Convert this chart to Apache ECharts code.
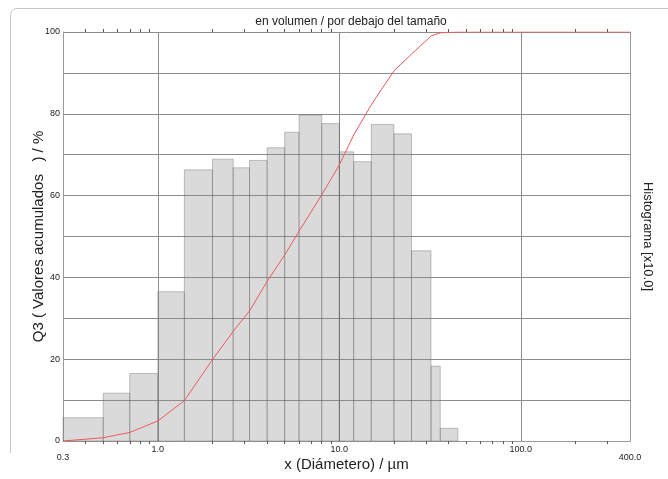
<!DOCTYPE html>
<html>
<head>
<meta charset="utf-8">
<script src="https://cdn.jsdelivr.net/npm/echarts@6/dist/echarts.min.js"></script>
<style>
  html, body { margin: 0; padding: 0; background: #ffffff; }
  #chart { width: 668px; height: 479px; }
</style>
</head>
<body>
<div id="chart"></div>
<script>
// Size class edges in µm (one more edge than there are classes)
const classEdges = [0.3, 0.5, 0.7, 1.0, 1.4, 2.0, 2.6, 3.2, 4.0, 5.0, 6.0, 8.0, 10, 12, 15, 20, 25, 32, 36, 45];
// Density distribution per class (histogram, scaled x10)
const histValues = [5.7, 11.7, 16.5, 36.5, 66.3, 68.9, 66.8, 68.6, 71.7, 75.5, 79.7, 77.6, 70.7, 68.3, 77.4, 75.1, 46.5, 18.3, 3.1];
// Cumulative undersize Q3 (%) at each size
const cumSizes = [0.3, 0.5, 0.7, 1.0, 1.4, 2.0, 2.6, 3.2, 4.0, 5.0, 6.0, 8.0, 10, 12, 15, 20, 25, 32, 36, 45, 400];
const cumValues = [0, 0.8, 2.1, 4.9, 9.9, 19.9, 26.8, 31.8, 39.0, 45.5, 51.3, 60.2, 67.5, 74.8, 82.2, 90.5, 94.6, 99.0, 99.8, 100, 100];
// Axis labels
const xLabelValues = [0.3, 1, 10, 100, 400];
const yLabelValues = [0, 20, 40, 60, 80, 100];
// Minor log ticks (2..9 of each decade) inside the axis range
const minorTickValues = [];
[0.1, 1, 10, 100].forEach(function (d) {
  for (let k = 2; k <= 9; k++) {
    const v = +(k * d).toFixed(3);
    if (v > 0.3 && v < 400) minorTickValues.push(v);
  }
});

const FONT = '"Liberation Sans", Arial, sans-serif';
const GRID_COLOR = '#8c8c8c';
const FRAME_COLOR = '#9a9a9a';

const chart = echarts.init(document.getElementById('chart'), null, { renderer: 'canvas' });

const minorAxis = function (pos) {
  return {
    type: 'log', logBase: 10, min: 0.3, max: 400, position: pos, gridIndex: 0,
    axisLine: { show: false },
    axisTick: { show: true, inside: false, length: 3, customValues: minorTickValues,
      lineStyle: { color: '#555', width: 1 } },
    axisLabel: { show: false },
    splitLine: { show: false }
  };
};

chart.setOption({
  animation: false,
  textStyle: { fontFamily: FONT },
  title: {
    text: 'en volumen / por debajo del tamaño',
    left: 346, top: 11, textAlign: 'center',
    textStyle: { fontSize: 12, fontWeight: 'normal', color: '#222', fontFamily: FONT }
  },
  graphic: [{
    type: 'polyline',
    shape: { points: [[10.5, 453], [10.5, 14.5], [11.5, 11.5], [13.5, 9.5], [16.5, 8.5], [668, 8.5]] },
    style: { fill: null, stroke: '#c4c4c4', lineWidth: 1 },
    silent: true
  }],
  grid: { left: 63, top: 32, width: 567, height: 409, containLabel: false, outerBoundsMode: 'none' },
  xAxis: [
    {
      type: 'log', logBase: 10, min: 0.3, max: 400, position: 'bottom', gridIndex: 0,
      axisLine: { show: true, lineStyle: { color: FRAME_COLOR } },
      axisTick: { show: false },
      axisLabel: {
        customValues: xLabelValues,
        fontSize: 9, color: '#222', margin: 5, lineHeight: 8,
        formatter: function (v) {
          const s = Number(v).toFixed(1);
          return (v < 0.5 || v > 300) ? '\n' + s : s;
        }
      },
      splitLine: { show: true, lineStyle: { color: GRID_COLOR, width: 1 } },
      name: 'x (Diámetero) / µm', nameLocation: 'middle', nameGap: 16, nameMoveOverlap: false,
      nameTextStyle: { fontSize: 15, color: '#222', fontFamily: FONT }
    },
    minorAxis('bottom'),
    minorAxis('top')
  ],
  yAxis: [
    {
      type: 'value', min: 0, max: 100, interval: 10, position: 'left',
      axisLine: { show: true, lineStyle: { color: FRAME_COLOR } },
      axisTick: { show: false },
      axisLabel: {
        customValues: yLabelValues,
        fontSize: 9, color: '#222', margin: 3,
        verticalAlign: 'middle', padding: [0, 0, 8, 0]
      },
      splitLine: { show: true, lineStyle: { color: GRID_COLOR, width: 1 } },
      name: 'Q3 ( Valores acumulados   ) / %', nameLocation: 'middle', nameGap: 17, nameMoveOverlap: false,
      nameTextStyle: { fontSize: 15, color: '#222', fontFamily: FONT }
    },
    {
      type: 'value', min: 0, max: 100, interval: 10, position: 'right',
      axisLine: { show: true, lineStyle: { color: FRAME_COLOR } },
      axisTick: { show: false },
      axisLabel: { show: false },
      splitLine: { show: false },
      name: 'Histograma [x10.0]', nameLocation: 'middle', nameRotate: -90, nameGap: 11,
      nameTextStyle: { fontSize: 13, color: '#222', fontFamily: FONT }
    }
  ],
  series: [
    {
      name: 'Histograma',
      type: 'custom',
      xAxisIndex: 0, yAxisIndex: 1,
      data: histValues.map(function (h, i) { return [classEdges[i], classEdges[i + 1], h]; }),
      encode: { x: [0, 1], y: 2 },
      z: 2,
      renderItem: function (params, api) {
        const p0 = api.coord([api.value(0), 0]);
        const p1 = api.coord([api.value(1), api.value(2)]);
        return {
          type: 'rect',
          shape: { x: p0[0], y: p1[1], width: p1[0] - p0[0], height: p0[1] - p1[1] },
          style: { fill: 'rgba(140,140,140,0.32)', stroke: 'rgba(90,90,90,0.35)', lineWidth: 1 }
        };
      }
    },
    {
      name: 'Q3',
      type: 'line',
      xAxisIndex: 0, yAxisIndex: 0,
      data: cumSizes.map(function (x, i) { return [x, cumValues[i]]; }),
      symbol: 'none',
      z: 3,
      lineStyle: { color: '#ee5a5a', width: 1 }
    }
  ]
});
</script>
</body>
</html>
